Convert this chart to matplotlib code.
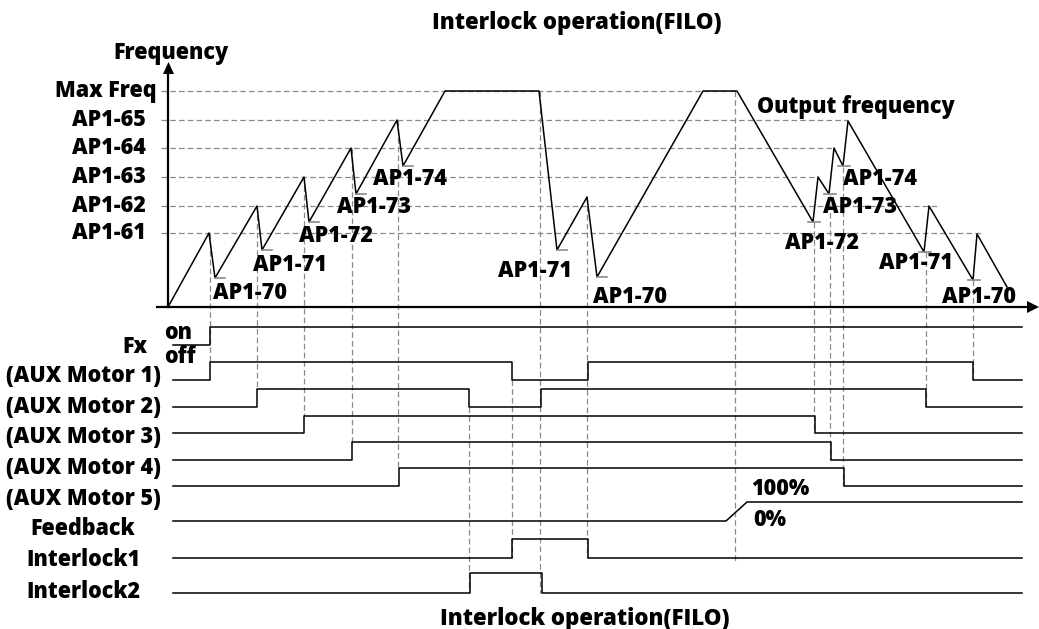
import matplotlib
matplotlib.use("Agg")
import matplotlib.pyplot as plt

plt.rcParams["font.family"] = ["Open Sans", "DejaVu Sans"]
plt.rcParams["font.weight"] = 800

# frequency graph: time and height above the time axis
BASE = 307
freq_t = [168, 209, 215, 257, 262, 304, 309, 351, 356, 397, 403, 445, 539, 557,
          587, 597, 703, 737, 813, 818, 829, 834, 843, 848, 924, 929, 973, 977, 1007]
freq_f = [0, 74, 29, 101, 57, 130, 85, 159, 113, 187, 141, 216, 216, 57,
          110, 30, 216, 216, 85, 130, 113, 159, 141, 186, 55, 101, 27, 73, 20]

level_names = ["Max Freq", "AP1-65", "AP1-64", "AP1-63", "AP1-62", "AP1-61"]
level_f = [216, 187, 159, 130, 101, 74]
level_end = [737, 848, 834, 818, 937, 982]

# minima (AP1-70..74) marked with short grey ticks
min_idx = [2, 4, 6, 8, 10, 13, 15, 18, 20, 22, 24, 26]

min_labels = ["AP1-70", "AP1-71", "AP1-72", "AP1-73", "AP1-74",
              "AP1-71", "AP1-70",
              "AP1-74", "AP1-73", "AP1-72", "AP1-71", "AP1-70"]
min_label_x = [213, 253, 299, 337, 373, 498, 593, 843, 823, 785, 879, 942]
min_label_y = [293, 265, 236, 207, 179, 271, 297, 179, 207, 243, 263, 297]

# timing rows: name, high level, low level, switching times
rows = ["Fx", "(AUX Motor 1)", "(AUX Motor 2)", "(AUX Motor 3)",
        "(AUX Motor 4)", "(AUX Motor 5)", "Interlock1", "Interlock2"]
row_high = [327, 362, 389, 416, 442, 468, 539, 573]
row_low = [345, 380, 407, 433, 460, 486, 558, 593]
row_edges = [[210], [210, 512, 588, 973], [257, 469, 541, 926], [304, 815],
             [352, 831], [399, 844], [512, 588], [470, 542]]
row_label_y = [347, 376, 407, 437, 468, 499, 560, 592]
T0, T1 = 173, 1022

feedback_low, feedback_high = 521, 502
feedback_ramp = [726, 747]

# vertical guide lines: time, top, bottom
guide_t = [210, 257, 304, 352, 398, 469, 512, 540, 587, 735, 814, 830, 843, 926, 973]
guide_top = [233, 206, 177, 148, 120, 407, 380, 91, 197, 91, 222, 195, 167, 252, 280]
guide_bot = [362, 389, 416, 442, 468, 593, 558, 593, 558, 562, 433, 460, 486, 407, 380]

fig = plt.figure(figsize=(10.39, 6.29), dpi=100)
ax = fig.add_axes([0, 0, 1, 1])
ax.set_xlim(0, 1039)
ax.set_ylim(629, 0)
ax.axis("off")

grey = "#8a8a8a"
dash = dict(color=grey, lw=0.9, dashes=(4.5, 2.5))
FS = 15.5

# horizontal level guides and labels
for name, f, xe in zip(level_names, level_f, level_end):
    ax.plot([161, xe], [BASE - f, BASE - f], **dash)
    right = 157 if name == "Max Freq" else 146
    ax.text(right, BASE - f, name, ha="right", va="center", fontsize=FS)

for t, y0, y1 in zip(guide_t, guide_top, guide_bot):
    ax.plot([t, t], [y0, y1], **dash)

# axes with arrows
ax.plot([168, 168], [BASE, 72], color="black", lw=1.6)
ax.plot([157, 1029], [BASE, BASE], color="black", lw=1.6)
ax.fill([163, 174, 168.5], [74, 74, 62], color="black", lw=0)
ax.fill([1027, 1027, 1039], [301, 313, 307], color="black", lw=0)

# output frequency curve
ax.plot(freq_t, [BASE - f for f in freq_f], color="black", lw=1.1)
for k, i in enumerate(min_idx):
    t, y = freq_t[i], BASE - freq_f[i]
    x0, x1 = (t, t + 10) if k < 7 else (t - 5, t + 7)
    ax.plot([x0, x1], [y, y], color=grey, lw=1.2)

for s, x, y in zip(min_labels, min_label_x, min_label_y):
    ax.text(x, y, s, ha="left", va="center", fontsize=FS)

# timing rows
for name, hi, lo, edges in zip(rows, row_high, row_low, row_edges):
    xs, ys = [T0], [lo]
    state = lo
    for e in edges:
        xs += [e, e]
        nxt = hi if state == lo else lo
        ys += [state, nxt]
        state = nxt
    xs.append(T1)
    ys.append(state)
    ax.plot(xs, ys, color="black", lw=1.1)

ax.plot([T0, feedback_ramp[0], feedback_ramp[1], T1],
        [feedback_low, feedback_low, feedback_high, feedback_high], color="black", lw=1.1)

for name, y in zip(rows, row_label_y):
    if name == "Fx":
        ax.text(147, y, name, ha="right", va="center", fontsize=FS)
    else:
        ax.text(83, y, name, ha="center", va="center", fontsize=FS)
ax.text(83, 529, "Feedback", ha="center", va="center", fontsize=FS)

ax.text(164, 333, "on", ha="left", va="center", fontsize=FS)
ax.text(164, 357, "off", ha="left", va="center", fontsize=FS)
ax.text(751, 489, "100%", ha="left", va="center", fontsize=FS)
ax.text(753, 520, "0%", ha="left", va="center", fontsize=FS)
ax.text(113, 53, "Frequency", ha="left", va="center", fontsize=FS)
ax.text(757, 107, "Output frequency", ha="left", va="center", fontsize=FS)

ax.text(577, 23, "Interlock operation(FILO)", ha="center", va="center", fontsize=16)
ax.text(585, 619, "Interlock operation(FILO)", ha="center", va="center", fontsize=16)

fig.savefig("out.png", dpi=100)
